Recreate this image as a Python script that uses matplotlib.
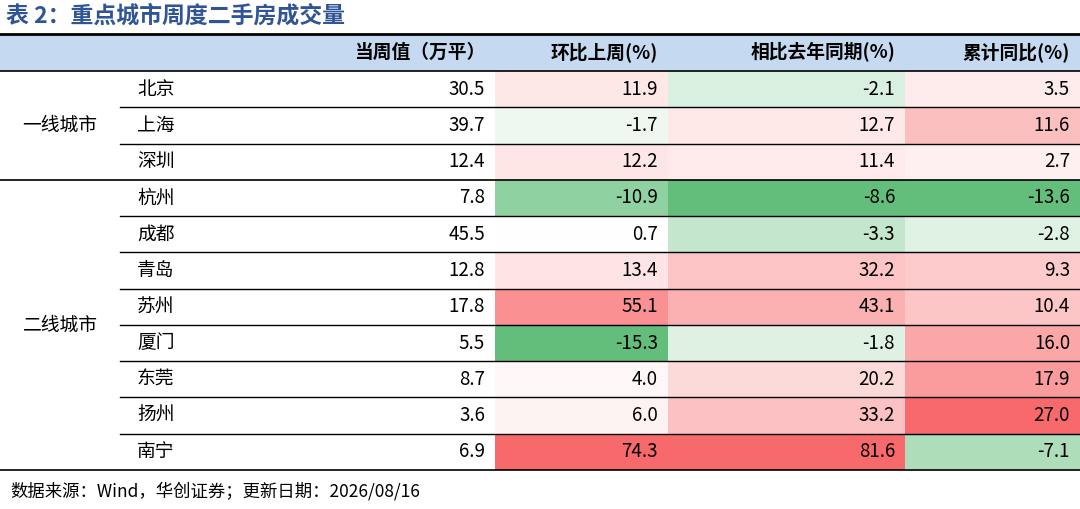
import matplotlib.pyplot as plt
import matplotlib.colors as mcolors
from matplotlib.patches import Rectangle

plt.rcParams['font.family'] = ['Noto Sans CJK SC', 'DejaVu Sans']

title = '表 2：重点城市周度二手房成交量'
headers = ['当周值（万平）', '环比上周(%)', '相比去年同期(%)', '累计同比(%)']
groups = [('一线城市', 3), ('二线城市', 8)]
cities = ['北京', '上海', '深圳', '杭州', '成都', '青岛', '苏州', '厦门', '东莞', '扬州', '南宁']
weekly = [30.5, 39.7, 12.4, 7.8, 45.5, 12.8, 17.8, 5.5, 8.7, 3.6, 6.9]
wow = [11.9, -1.7, 12.2, -10.9, 0.7, 13.4, 55.1, -15.3, 4.0, 6.0, 74.3]
yoy = [-2.1, 12.7, 11.4, -8.6, -3.3, 32.2, 43.1, -1.8, 20.2, 33.2, 81.6]
ytd = [3.5, 11.6, 2.7, -13.6, -2.8, 9.3, 10.4, 16.0, 17.9, 27.0, -7.1]
source = '数据来源：Wind，华创证券；更新日期：2026/08/16'

RED = mcolors.to_rgb('#f8696b')
GREEN = mcolors.to_rgb('#63be7b')


def cell_color(v, vals):
    if v >= 0:
        t, c = v / max(vals), RED
    else:
        t, c = v / min(vals), GREEN
    return tuple(1 - t * (1 - ci) for ci in c)


fig = plt.figure(figsize=(10.8, 5.09), dpi=100)
ax = fig.add_axes([0, 0, 1, 1])
ax.set_xlim(0, 1080)
ax.set_ylim(509, 0)
ax.axis('off')

col_x = [0, 120, 300, 495, 668, 905, 1080]
top, head_bot = 34, 71
row_h = (470 - head_bot) / len(cities)
fs = 13.5

ax.text(6, 16, title, fontsize=16.5, fontweight='bold', color='#2f5597', va='center')

ax.add_patch(Rectangle((0, top), 1080, head_bot - top, color='#c5d9f1', lw=0))
for i, h in enumerate(headers):
    ax.text(col_x[i + 3] - 10, (top + head_bot) / 2, h, fontsize=fs, fontweight='bold',
            ha='right', va='center')

for r, city in enumerate(cities):
    y0 = head_bot + r * row_h
    yc = y0 + row_h / 2
    for j, vals in enumerate([wow, yoy, ytd]):
        ax.add_patch(Rectangle((col_x[j + 3], y0), col_x[j + 4] - col_x[j + 3], row_h,
                               color=cell_color(vals[r], vals), lw=0))
    ax.text(137, yc, city, fontsize=fs, va='center')
    for j, vals in enumerate([weekly, wow, yoy, ytd]):
        ax.text(col_x[j + 3] - 10, yc, f'{vals[r]:.1f}', fontsize=fs,
                ha='right', va='center')

start = 0
for name, n in groups:
    y0 = head_bot + start * row_h
    ax.text(60, y0 + n * row_h / 2, name, fontsize=fs, ha='center', va='center')
    for k in range(1, n):
        yy = y0 + k * row_h
        ax.plot([120, 1080], [yy, yy], color='black', lw=1)
    start += n
    ax.plot([0, 1080], [head_bot + start * row_h] * 2, color='black', lw=1.2)

ax.plot([0, 1080], [top, top], color='black', lw=2)
ax.plot([0, 1080], [head_bot, head_bot], color='black', lw=1.2)

ax.text(10, 491, source, fontsize=12.5, va='center')

fig.savefig('out.png', dpi=100)
